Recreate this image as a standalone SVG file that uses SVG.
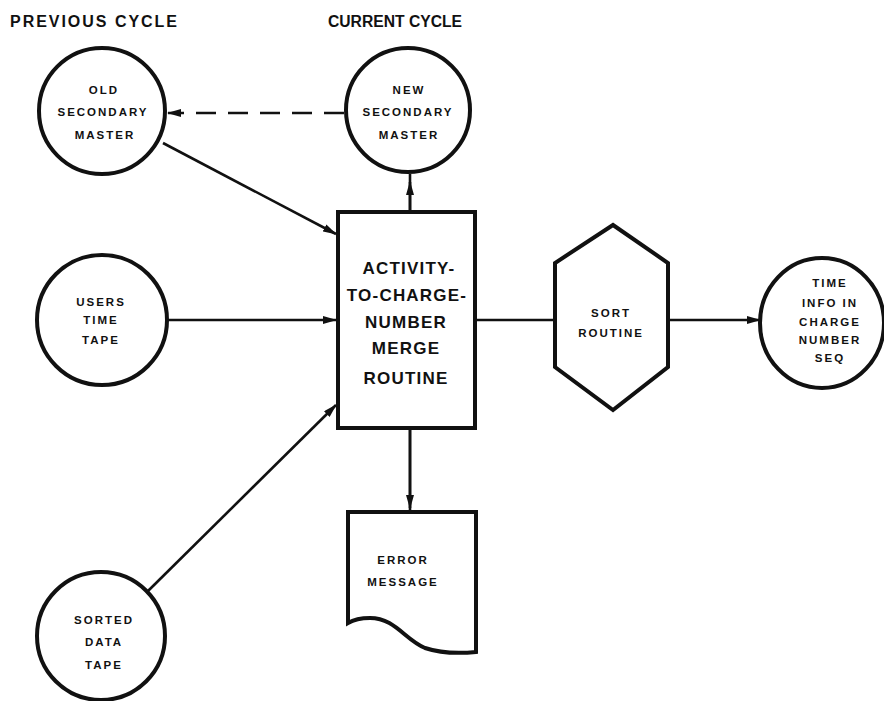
<svg xmlns="http://www.w3.org/2000/svg" width="884" height="701" viewBox="0 0 884 701">
  <defs>
    <style>
      .shape { fill: #fff; stroke: #111; stroke-width: 4; }
      .conn { fill: none; stroke: #111; stroke-width: 2.6; }
      .dash { stroke-dasharray: 20 12; }
      text { font-family: "Liberation Sans", Arial, sans-serif; font-weight: bold; fill: #111; text-anchor: middle; }
      .hdr { font-size: 16px; text-anchor: start; }
      .sm { font-size: 11.5px; letter-spacing: 2px; }
      .big { font-size: 17px; letter-spacing: 1.2px; }
    </style>
    <marker id="arrow" viewBox="0 0 14 8" refX="13" refY="4" markerWidth="14" markerHeight="8" markerUnits="userSpaceOnUse" orient="auto">
      <path d="M0,0 L14,4 L0,8 Z" fill="#111"/>
    </marker>
  </defs>
  <rect width="884" height="701" fill="#fff"/>

  <!-- column headings -->
  <text class="hdr" x="10" y="27" textLength="167" lengthAdjust="spacing">PREVIOUS CYCLE</text>
  <text class="hdr" x="328" y="27" textLength="134" lengthAdjust="spacingAndGlyphs">CURRENT CYCLE</text>

  <!-- connectors -->
  <g id="connectors">
    <line class="conn dash" x1="344" y1="113" x2="168" y2="113" marker-end="url(#arrow)"/>
    <line class="conn" x1="163" y1="143" x2="336" y2="234" marker-end="url(#arrow)"/>
    <line class="conn" x1="167" y1="320" x2="336" y2="320" marker-end="url(#arrow)"/>
    <line class="conn" x1="148" y1="591" x2="336" y2="405" marker-end="url(#arrow)"/>
    <line class="conn" x1="410" y1="212" x2="410" y2="174"/>
    <line class="conn" x1="410" y1="212" x2="410" y2="182" marker-end="url(#arrow)"/>
    <line class="conn" x1="410" y1="428" x2="410" y2="512"/>
    <line class="conn" x1="410" y1="428" x2="410" y2="508" marker-end="url(#arrow)"/>
    <line class="conn" x1="475" y1="320" x2="555" y2="320"/>
    <line class="conn" x1="668" y1="320" x2="760" y2="320" marker-end="url(#arrow)"/>
  </g>

  <g id="old-secondary-master">
    <circle class="shape" cx="102" cy="111" r="63"/>
    <text class="sm" x="104" y="94">OLD</text>
    <text class="sm" x="103" y="116">SECONDARY</text>
    <text class="sm" x="105" y="139">MASTER</text>
  </g>

  <g id="new-secondary-master">
    <circle class="shape" cx="408" cy="110" r="62"/>
    <text class="sm" x="409" y="94">NEW</text>
    <text class="sm" x="408" y="116">SECONDARY</text>
    <text class="sm" x="409" y="139">MASTER</text>
  </g>

  <g id="users-time-tape">
    <circle class="shape" cx="102" cy="320" r="65"/>
    <text class="sm" x="101" y="306">USERS</text>
    <text class="sm" x="101" y="324">TIME</text>
    <text class="sm" x="101" y="344">TAPE</text>
  </g>

  <g id="sorted-data-tape">
    <circle class="shape" cx="101" cy="636" r="64"/>
    <text class="sm" x="104" y="624">SORTED</text>
    <text class="sm" x="104" y="646">DATA</text>
    <text class="sm" x="104" y="669">TAPE</text>
  </g>

  <g id="merge-routine">
    <rect class="shape" x="338" y="212" width="137" height="216"/>
    <text class="big" x="409" y="274">ACTIVITY-</text>
    <text class="big" x="407" y="301">TO-CHARGE-</text>
    <text class="big" x="406" y="328">NUMBER</text>
    <text class="big" x="406" y="354">MERGE</text>
    <text class="big" x="406" y="384">ROUTINE</text>
  </g>

  <g id="sort-routine">
    <polygon class="shape" points="613,225 668,263 668,367 613,410 555,367 555,263"/>
    <text class="sm" x="611" y="317">SORT</text>
    <text class="sm" x="611" y="337">ROUTINE</text>
  </g>

  <g id="time-info">
    <ellipse class="shape" cx="822" cy="323" rx="62" ry="65"/>
    <text class="sm" x="830" y="287">TIME</text>
    <text class="sm" x="830" y="307">INFO IN</text>
    <text class="sm" x="830" y="326">CHARGE</text>
    <text class="sm" x="830" y="344">NUMBER</text>
    <text class="sm" x="830" y="362">SEQ</text>
  </g>

  <g id="error-message">
    <path class="shape" d="M348,512 L476,512 L476,652 C455,654 440,653 425,648 C405,640 395,618 370,618 C360,618 353,620 348,623 Z"/>
    <text class="sm" x="403" y="564">ERROR</text>
    <text class="sm" x="403" y="586">MESSAGE</text>
  </g>
</svg>
